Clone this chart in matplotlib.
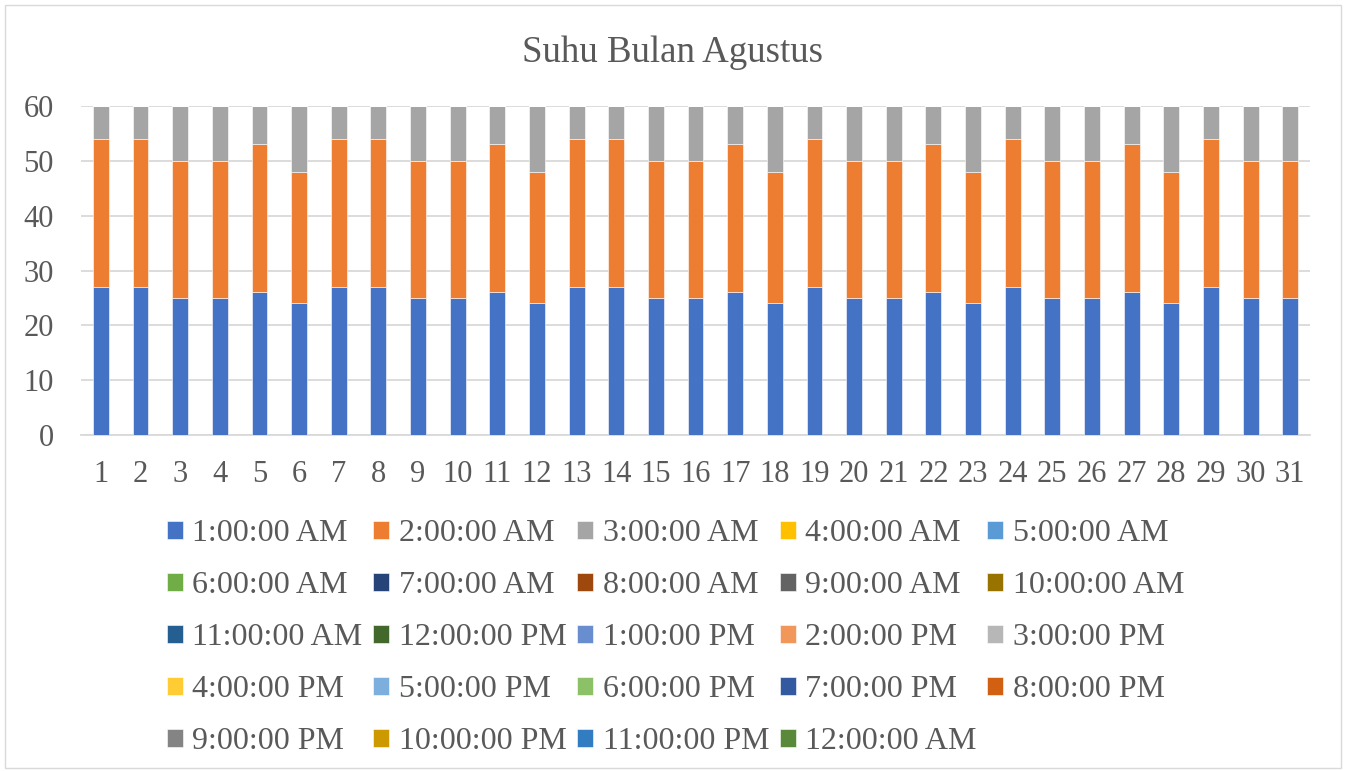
import matplotlib.pyplot as plt
from matplotlib.patches import Rectangle

plt.rcParams['font.family'] = ['Liberation Serif', 'DejaVu Serif']

# data
days = list(range(1, 32))
jam_01 = [27, 27, 25, 25, 26, 24, 27, 27, 25, 25, 26, 24, 27, 27, 25, 25,
          26, 24, 27, 25, 25, 26, 24, 27, 25, 25, 26, 24, 27, 25, 25]
jam_02 = [27, 27, 25, 25, 27, 24, 27, 27, 25, 25, 27, 24, 27, 27, 25, 25,
          27, 24, 27, 25, 25, 27, 24, 27, 25, 25, 27, 24, 27, 25, 25]
jam_03 = [6, 6, 10, 10, 7, 12, 6, 6, 10, 10, 7, 12, 6, 6, 10, 10,
          7, 12, 6, 10, 10, 7, 12, 6, 10, 10, 7, 12, 6, 10, 10]
kosong = [0] * 31  # jam lain tanpa data

labels = ['1:00:00 AM', '2:00:00 AM', '3:00:00 AM', '4:00:00 AM', '5:00:00 AM',
          '6:00:00 AM', '7:00:00 AM', '8:00:00 AM', '9:00:00 AM', '10:00:00 AM',
          '11:00:00 AM', '12:00:00 PM', '1:00:00 PM', '2:00:00 PM', '3:00:00 PM',
          '4:00:00 PM', '5:00:00 PM', '6:00:00 PM', '7:00:00 PM', '8:00:00 PM',
          '9:00:00 PM', '10:00:00 PM', '11:00:00 PM', '12:00:00 AM']
colors = ['#4472C4', '#ED7D31', '#A5A5A5', '#FFC000', '#5B9BD5', '#70AD47',
          '#264478', '#9E480E', '#636363', '#997300', '#255E91', '#43682B',
          '#698ED0', '#F1975A', '#B7B7B7', '#FFCD33', '#7CAFDD', '#8CC168',
          '#335AA1', '#D26012', '#848484', '#CC9A00', '#327DC2', '#5A8A39']

series = [jam_01, jam_02, jam_03] + [kosong] * 21

txt = '#595959'
fig = plt.figure(figsize=(13.46, 7.71), dpi=100)
ax = fig.add_axes([0.0602, 0.4358, 0.9131, 0.4267])

bottom = [0] * 31
handles = []
for vals, lab, col in zip(series, labels, colors):
    b = ax.bar(days, vals, width=0.4, bottom=bottom, color=col, label=lab,
               edgecolor='white', linewidth=0.4, zorder=3)
    handles.append(b)
    bottom = [p + q for p, q in zip(bottom, vals)]

ax.set_xlim(0.5, 31.5)
ax.set_ylim(0, 60)
ax.set_yticks(range(0, 61, 10))
ax.set_xticks(days)
ax.grid(axis='y', color='#D9D9D9', linewidth=1.3, zorder=0)
for s in ['top', 'right', 'left']:
    ax.spines[s].set_visible(False)
ax.spines['bottom'].set_color('#D9D9D9')
ax.spines['bottom'].set_linewidth(1.3)
ax.tick_params(length=0, colors=txt, labelsize=22)
ax.tick_params(axis='y', pad=19.5)
ax.tick_params(axis='x', pad=18)

fig.text(0.5, 0.932, 'Suhu Bulan Agustus', ha='center', va='center',
         fontsize=26.6, color=txt)

# legend urut per baris (matplotlib mengisi per kolom)
ncol = 5
order = [r * ncol + c for c in range(ncol) for r in range(5) if r * ncol + c < len(handles)]
leg = fig.legend(handles=[handles[i] for i in order], labels=[labels[i] for i in order],
                 loc='upper left', bbox_to_anchor=(0.112, 0.347),
                 ncol=ncol, frameon=False, fontsize=23, labelcolor=txt,
                 handlelength=0.5, handleheight=0.5, handletextpad=0.3,
                 columnspacing=0.33, labelspacing=0.72, borderpad=0)

fig.patches.append(Rectangle((0.004, 0.004), 0.992, 0.99, transform=fig.transFigure,
                             fill=False, edgecolor='#D9D9D9', linewidth=1))

plt.savefig('out.png', dpi=100)
